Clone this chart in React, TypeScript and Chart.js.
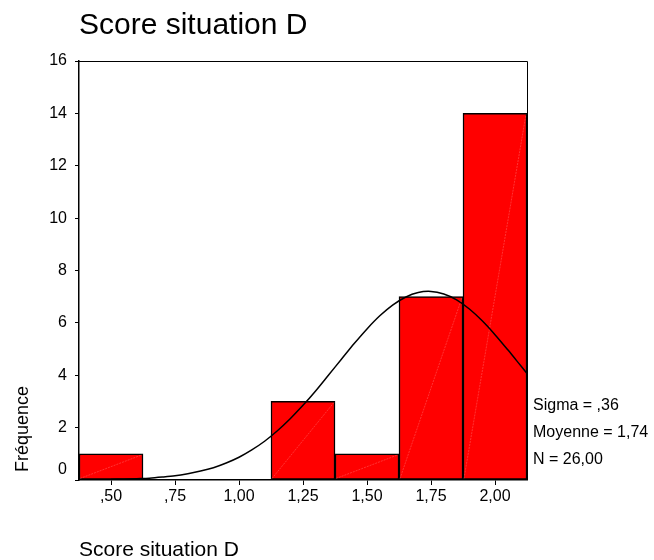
import React, { useEffect, useRef } from "react";
import { Chart, registerables } from "chart.js";

Chart.register(...registerables);

const chartTitle = "Score situation D";
const xAxisTitle = "Score situation D";
const yAxisTitle = "Fréquence";

const binCenters = [0.5, 0.75, 1.0, 1.25, 1.5, 1.75, 2.0];
const counts = [1, 0, 0, 3, 1, 7, 14];
const xTickValues = [0.5, 0.75, 1.0, 1.25, 1.5, 1.75, 2.0];
const xTickLabels = [",50", ",75", "1,00", "1,25", "1,50", "1,75", "2,00"];
const yTickValues = [0, 2, 4, 6, 8, 10, 12, 14, 16];

// normal curve
const curveX = [0.5, 0.55, 0.6, 0.65, 0.7, 0.75, 0.8, 0.85, 0.9, 0.95, 1.0, 1.05, 1.1, 1.15, 1.2, 1.25, 1.3, 1.35, 1.4, 1.45, 1.5, 1.55, 1.6, 1.65, 1.7, 1.75, 1.8, 1.85, 1.9, 1.95, 2.0, 2.05, 2.1, 2.125];
const curveY = [0.02, 0.03, 0.05, 0.07, 0.11, 0.16, 0.24, 0.34, 0.47, 0.65, 0.87, 1.15, 1.48, 1.88, 2.34, 2.85, 3.41, 4.01, 4.61, 5.21, 5.77, 6.27, 6.68, 6.98, 7.16, 7.2, 7.1, 6.88, 6.53, 6.08, 5.55, 4.97, 4.37, 4.07];

const statsLines = ["Sigma = ,36", "Moyenne = 1,74", "N = 26,00"];

const FONT = '"Liberation Sans", Arial, sans-serif';

export default function App() {
  const ref = useRef<HTMLCanvasElement | null>(null);

  useEffect(() => {
    if (!ref.current) return;

    const decor = {
      id: "decor",
      afterDatasetDraw(chart: any, args: any) {
        if (args.index !== 0) return;
        const ctx = chart.ctx;
        ctx.save();
        ctx.strokeStyle = "rgba(255,170,170,0.6)";
        ctx.lineWidth = 0.5;
        ctx.setLineDash([2, 1]);
        args.meta.data.forEach((el: any) => {
          const p = el.getProps(["x", "y", "base", "width"], true);
          if (p.y == null || isNaN(p.y) || Math.abs(p.base - p.y) < 1) return;
          ctx.beginPath();
          ctx.moveTo(p.x - p.width / 2 + 1, p.base - 1);
          ctx.lineTo(p.x + p.width / 2 - 1, p.y + 1);
          ctx.stroke();
        });
        ctx.restore();
      },
      afterDraw(chart: any) {
        const ctx = chart.ctx;
        const a = chart.chartArea;
        ctx.save();
        // frame top & right
        ctx.strokeStyle = "#000";
        ctx.lineWidth = 1;
        ctx.beginPath();
        ctx.moveTo(a.left, a.top + 0.5);
        ctx.lineTo(a.right + 0.5, a.top + 0.5);
        ctx.lineTo(a.right + 0.5, a.bottom);
        ctx.stroke();
        ctx.fillStyle = "#000";
        // title
        ctx.font = `30px ${FONT}`;
        ctx.textAlign = "left";
        ctx.textBaseline = "alphabetic";
        ctx.fillText(chartTitle, 79, 34);
        // x title
        ctx.font = `21px ${FONT}`;
        ctx.fillText(xAxisTitle, 79, 556);
        // y title
        ctx.save();
        ctx.font = `18px ${FONT}`;
        ctx.translate(28, 472);
        ctx.rotate(-Math.PI / 2);
        ctx.fillText(yAxisTitle, 0, 0);
        ctx.restore();
        // zero label (drawn slightly above its tick as in the original)
        ctx.font = `16px ${FONT}`;
        ctx.textAlign = "right";
        ctx.textBaseline = "middle";
        ctx.fillText(String(yTickValues[0]), 67, a.bottom - 10);
        // stats
        ctx.textAlign = "left";
        statsLines.forEach((s, i) => {
          ctx.fillText(s, 533, 406 + i * 27);
        });
        ctx.restore();
      },
    };

    const chart = new Chart(ref.current, {
      type: "bar",
      data: {
        datasets: [
          {
            type: "bar",
            data: binCenters.map((x, i) => ({ x, y: counts[i] === 0 ? null : counts[i] })),
            backgroundColor: "#FF0000",
            borderColor: "#000000",
            borderWidth: 1.5,
            borderSkipped: false,
            barPercentage: 1,
            categoryPercentage: 1,
            order: 2,
          } as any,
          {
            type: "line",
            data: curveX.map((x, i) => ({ x, y: curveY[i] })),
            borderColor: "#000000",
            borderWidth: 1.5,
            pointRadius: 0,
            tension: 0.3,
            fill: false,
            order: 1,
          } as any,
        ],
      },
      options: {
        animation: false,
        responsive: false,
        maintainAspectRatio: false,
        layout: { padding: { left: 0, top: 61, right: 127, bottom: 50 } },
        plugins: {
          legend: { display: false },
          title: { display: false },
          tooltip: { enabled: false },
        },
        scales: {
          x: {
            type: "linear",
            min: 0.375,
            max: 2.125,
            offset: false,
            afterBuildTicks: (scale: any) => {
              scale.ticks = xTickValues.map((v) => ({ value: v }));
            },
            afterFit: (scale: any) => {
              scale.height = 30;
            },
            grid: {
              display: true,
              offset: false,
              drawOnChartArea: false,
              drawTicks: true,
              tickLength: 5,
              color: "#000",
              lineWidth: 1,
            },
            border: { display: true, color: "#000", width: 1.5 },
            ticks: {
              color: "#000",
              font: { family: FONT, size: 16 },
              padding: 2,
              maxRotation: 0,
              autoSkip: false,
              callback: (v: any) => {
                const i = xTickValues.findIndex((t) => Math.abs(t - Number(v)) < 1e-6);
                return i >= 0 ? xTickLabels[i] : "";
              },
            },
          },
          y: {
            type: "linear",
            min: 0,
            max: 16,
            afterBuildTicks: (scale: any) => {
              scale.ticks = yTickValues.map((v) => ({ value: v }));
            },
            afterFit: (scale: any) => {
              scale.width = 79;
            },
            grid: {
              display: true,
              drawOnChartArea: false,
              drawTicks: true,
              tickLength: 4,
              color: "#000",
              lineWidth: 1,
            },
            border: { display: true, color: "#000", width: 1.5 },
            ticks: {
              color: "#000",
              font: { family: FONT, size: 16 },
              padding: 8,
              autoSkip: false,
              callback: (v: any) => (Number(v) === yTickValues[0] ? "" : String(v)),
            },
          },
        },
      },
      plugins: [decor],
    } as any);

    return () => chart.destroy();
  }, []);

  return (
    <div style={{ position: "fixed", left: 0, top: 0, width: 654, height: 560, background: "#fff" }}>
      <canvas ref={ref} width={654} height={560} style={{ display: "block", width: 654, height: 560 }} />
    </div>
  );
}
